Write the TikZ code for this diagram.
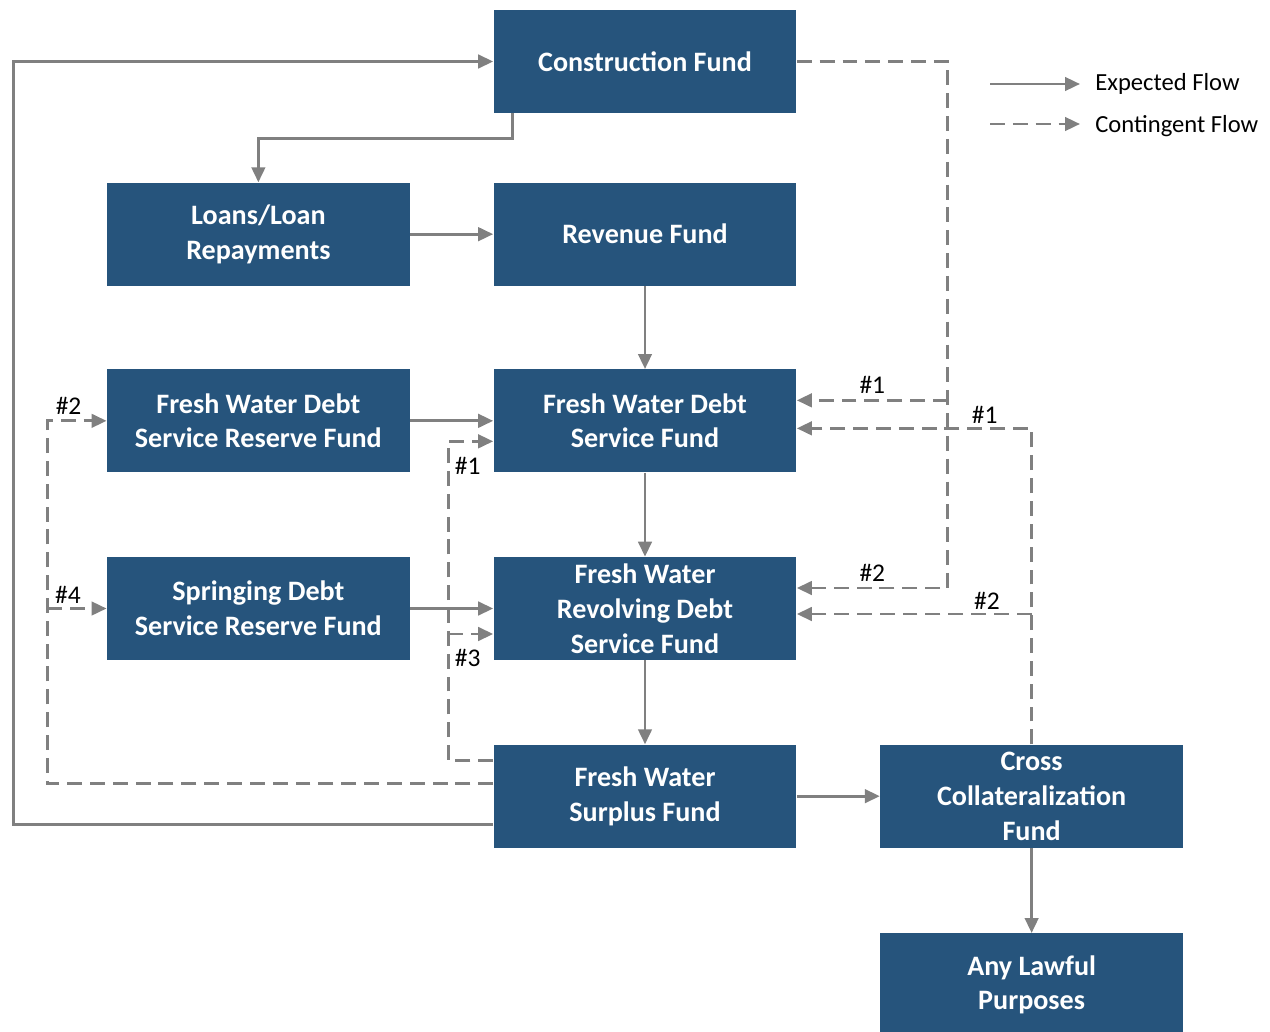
\documentclass[tikz,border=0pt]{standalone}
\usepackage{fontspec}
\setmainfont{Carlito}
\usetikzlibrary{arrows.meta, positioning}
\definecolor{fundblue}{HTML}{26547C}
\definecolor{flowgray}{HTML}{808080}

\begin{document}
\begin{tikzpicture}[x=0.02cm, y=-0.02cm,
  fund/.style={rectangle, fill=fundblue, text=white, minimum width=6.06cm, minimum height=2.06cm, inner sep=0pt, align=center, font=\bfseries\fontsize{16}{19.8}\selectfont},
  flow/.style={-{Triangle[length=0.3cm, width=0.27cm]}, draw=flowgray, line width=1.6pt},
  cflow/.style={flow, dash pattern=on 8.5pt off 4.5pt},
  tag/.style={font=\fontsize{14.5}{16}\selectfont, inner sep=1pt},
  legend/.style={font=\fontsize{14}{16}\selectfont, inner sep=0pt}]
\useasboundingbox (0,0) rectangle (1270,1031);

\node (construction) [fund] at (645,61.5) {Construction Fund};
\node (revenue) [fund, below=1.38cm of construction] {Revenue Fund};
\node (loans) [fund, left=1.66cm of revenue] {Loans/Loan\\Repayments};
\node (fwdsf) [fund, below=1.66cm of revenue] {Fresh Water Debt\\Service Fund};
\node (fwdsrf) [fund, left=1.66cm of fwdsf] {Fresh Water Debt\\Service Reserve Fund};
\node (rdsf) [fund, below=1.68cm of fwdsf] {Fresh Water\\Revolving Debt\\Service Fund};
\node (sdsrf) [fund, left=1.66cm of rdsf] {Springing Debt\\Service Reserve Fund};
\node (surplus) [fund, below=1.68cm of rdsf] {Fresh Water\\Surplus Fund};
\node (cross) [fund, right=1.66cm of surplus] {Cross\\Collateralization\\Fund};
\node (lawful) [fund, below=1.7cm of cross] {Any Lawful\\Purposes};

\node (expected) [legend, anchor=west] at (1095,84) {Expected Flow};
\node (contingent) [legend, anchor=west] at (1095,126) {Contingent Flow};
\draw[flow] ([xshift=-2.1cm]expected.west) -- ([xshift=-0.3cm]expected.west);
\draw[cflow] ([xshift=-2.1cm, yshift=0.04cm]contingent.west) -- ([xshift=-0.3cm, yshift=0.04cm]contingent.west);

\draw[flow] ([xshift=0.38cm]construction.south west) -- ++(0,25) -| (loans.north);
\draw[flow] (loans) -- (revenue);
\draw[flow] (revenue) -- (fwdsf);
\draw[flow] (fwdsrf) -- (fwdsf);
\draw[flow] (fwdsf) -- (rdsf);
\draw[flow] (sdsrf) -- (rdsf);
\draw[flow] (rdsf) -- (surplus);
\draw[flow] (surplus) -- (cross);
\draw[flow] (cross) -- (lawful);
\draw[flow] ([yshift=-0.57cm]surplus.west) -- ++(-480,0) |- (construction.west);

\coordinate (cbend) at ([xshift=3.02cm]construction.east);
\coordinate (cfw) at ([yshift=0.41cm]fwdsf.east);
\draw[cflow] (construction.east) -- (cbend) |- ([yshift=0.41cm]rdsf.east) node[tag, pos=0.75, above, yshift=2pt] {\#2};
\draw[cflow] (cbend |- cfw) -- (cfw) node[tag, midway, above, yshift=2pt] {\#1};

\coordinate (xrd) at ([yshift=-0.11cm]rdsf.east);
\draw[cflow] (cross.north) |- ([yshift=-0.15cm]fwdsf.east) node[tag, pos=0.6, above, yshift=1pt] {\#1};
\draw[cflow] (cross.north |- xrd) -- (xrd) node[tag, pos=0.19, above, yshift=1pt] {\#2};

\coordinate (sbend) at ([xshift=-0.9cm, yshift=0.71cm]surplus.west);
\coordinate (srd) at ([yshift=-0.51cm]rdsf.west);
\draw[cflow] ([yshift=0.71cm]surplus.west) -- (sbend) |- ([yshift=-0.41cm]fwdsf.west) node[tag, pos=0.5, anchor=north west, xshift=2pt, yshift=-7pt] {\#1};
\draw[cflow] (sbend |- srd) -- (srd) node[tag, pos=0, anchor=north west, xshift=2pt, yshift=-7pt] {\#3};

\coordinate (fbend) at ([xshift=-8.92cm, yshift=0.25cm]surplus.west);
\draw[cflow] ([yshift=0.25cm]surplus.west) -- (fbend) |- (fwdsrf.west) node[tag, pos=0.68, above, yshift=2pt] {\#2};
\draw[cflow] (fbend |- sdsrf.west) -- (sdsrf.west) node[tag, pos=0.35, above, yshift=1pt] {\#4};
\end{tikzpicture}
\end{document}
